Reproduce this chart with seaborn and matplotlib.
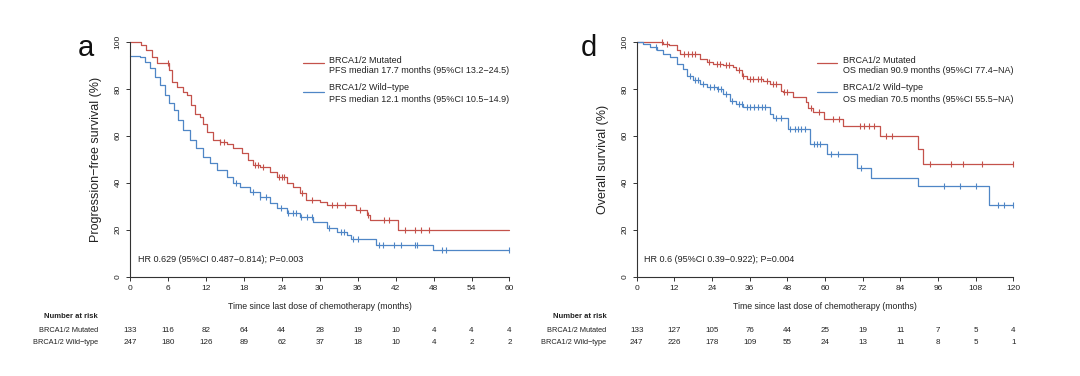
import numpy as np
import pandas as pd
import matplotlib
matplotlib.use("Agg")
import matplotlib.pyplot as plt
import seaborn as sns

# ---- PFS (panel a) ----
pfs_mut_t = [0, 1.8, 2.6, 3.4, 4.2, 4.5, 6.1, 6.6, 7.4, 8.4, 9.0, 9.7, 10.3, 11.0, 11.6, 12.1,
             13.2, 14.2, 15.3, 16.3, 17.7, 18.7, 19.5, 20.6, 22.1, 23.2, 24.8, 25.8, 26.8,
             27.9, 30.0, 31.1, 35.8, 37.4, 38.0, 42.3, 60]
pfs_mut_s = [100, 98.6, 96.5, 93.6, 91.2, 91.2, 88, 83, 80.9, 78.7, 77.3, 73, 69.5, 68, 65.2, 61.7,
             58, 57.4, 56.7, 54.6, 52.5, 49.6, 47.5, 46.5, 44.7, 42.6, 39.7, 38.3, 35.5,
             32.6, 31.9, 30.5, 28.4, 26.2, 24.1, 19.9, 19.9]
pfs_wt_t = [0, 1.6, 2.4, 3.2, 4.0, 4.7, 5.5, 6.1, 6.9, 7.6, 8.4, 9.5, 10.5, 11.6, 12.7, 13.7,
            15.3, 16.3, 17.4, 18.9, 20.6, 22.1, 23.2, 24.8, 26.8, 29.0, 31.1, 32.7, 34.3,
            35.0, 38.9, 47.9, 60]
pfs_wt_s = [93.9, 93.6, 91.5, 88.7, 85, 81.6, 77.3, 73.8, 70.9, 66.7, 62.4, 58.2, 54.6, 51.1,
            48.2, 45.4, 42.6, 39.7, 38.3, 36.2, 34, 31.2, 29.1, 27.2, 25.5, 23.4, 20.6, 19.1,
            17.7, 15.9, 13.5, 11.3, 11.3]
pfs_mut_cens = [6.0, 14.3, 14.8, 19.8, 20.3, 21.0, 23.5, 24.0, 24.4, 27.2, 28.7, 32.0, 32.8,
                34.0, 36.3, 37.7, 40.2, 41.0, 43.5, 45.0, 46.0, 47.3]
pfs_wt_cens = [16.8, 19.5, 20.6, 21.5, 23.8, 25.0, 25.8, 26.2, 27.0, 28.0, 28.8, 31.5, 33.3,
               33.8, 35.3, 36.0, 39.3, 40.0, 41.8, 42.9, 45.0, 45.4, 49.4, 50.0, 60.0]

# ---- OS (panel d) ----
os_mut_t = [0, 7.4, 8.3, 10.4, 12.7, 13.8, 20.2, 22.3, 24.4, 27.6, 30.8, 31.8, 33.4, 35.0,
            40.3, 42.5, 46.1, 46.7, 49.9, 54.1, 54.7, 56.3, 59.7, 65.8, 77.5, 89.7, 91.1, 120]
os_mut_s = [100, 100, 99.3, 98.6, 96.4, 94.7, 92.9, 91.4, 90.7, 90, 89.3, 87.9, 85.7, 84.3,
            83.3, 82.1, 79.3, 78.6, 76.4, 74.3, 71.9, 70, 67.1, 64.3, 60, 54.3, 48.1, 48.1]
os_wt_t = [0, 2.1, 4.2, 6.4, 8.5, 10.6, 12.7, 14.9, 15.9, 18.0, 20.2, 22.3, 25.5, 27.6, 29.7,
           31.8, 34.0, 42.5, 43.5, 48.3, 55.2, 60.5, 70.3, 74.8, 89.7, 112.3, 120]
os_wt_s = [100, 99, 97.9, 96.7, 95, 93.6, 90.7, 88.6, 85.7, 83.6, 82.1, 81, 80, 77.9, 75,
           73.6, 72.1, 69.3, 67.6, 62.9, 56.4, 52.1, 46.4, 42.1, 38.6, 30.7, 30.7]
os_mut_cens = [8.0, 9.5, 15.0, 16.5, 17.5, 18.5, 23.0, 25.5, 26.5, 28.5, 29.5, 32.5, 34.0,
               36.0, 37.0, 38.5, 39.5, 41.5, 43.5, 44.5, 47.0, 48.0, 55.5, 58.0, 62.5, 64.5,
               71.0, 72.5, 74.0, 75.5, 79.5, 81.5, 93.5, 100.0, 104.0, 110.0, 120.0]
os_wt_cens = [6.0, 17.0, 18.5, 19.5, 21.0, 23.5, 24.5, 26.0, 27.0, 28.5, 30.5, 32.5, 33.5,
              35.0, 36.0, 37.5, 38.5, 40.0, 41.0, 44.5, 46.0, 49.0, 50.5, 51.5, 52.5, 53.5,
              56.5, 57.5, 58.5, 62.0, 64.0, 71.5, 98.0, 103.0, 108.0, 115.0, 117.0, 120.0]

# ---- numbers at risk ----
pfs_risk_times = [0, 6, 12, 18, 24, 30, 36, 42, 48, 54, 60]
pfs_risk_mut = [133, 116, 82, 64, 44, 28, 19, 10, 4, 4, 4]
pfs_risk_wt = [247, 180, 126, 89, 62, 37, 18, 10, 4, 2, 2]
os_risk_times = [0, 12, 24, 36, 48, 60, 72, 84, 96, 108, 120]
os_risk_mut = [133, 127, 105, 76, 44, 25, 19, 11, 7, 5, 4]
os_risk_wt = [247, 226, 178, 109, 55, 24, 13, 11, 8, 5, 1]

RED = "#c4524b"
BLUE = "#4f86c6"
INK = "#222222"

sns.set_theme(style="white")
plt.rcParams["font.family"] = ["Liberation Sans", "DejaVu Sans"]

fig = plt.figure(figsize=(10.8, 3.76), dpi=100)


def km(ax, t, s, cens, color):
    df = pd.DataFrame({"t": t, "s": s})
    sns.lineplot(data=df, x="t", y="s", ax=ax, color=color, lw=0.9,
                 drawstyle="steps-post", estimator=None, sort=False, clip_on=False)
    ys = [s[np.searchsorted(t, c, side="right") - 1] for c in cens]
    cdf = pd.DataFrame({"t": cens, "s": ys})
    sns.scatterplot(data=cdf, x="t", y="s", ax=ax, marker="|", s=22, color=color,
                    linewidth=0.8, clip_on=False)


def panel(rect, letter, letter_x, xmax, xticks, ylabel, curves, legend, leg_x, hr,
          risk_t, risk_m, risk_w, lab_x):
    ax = fig.add_axes(rect)
    for t, s, c, col in curves:
        km(ax, t, s, c, col)
    ax.set_xlim(0, xmax)
    ax.set_ylim(0, 100)
    ax.set_xticks(xticks)
    ax.set_yticks([0, 20, 40, 60, 80, 100])
    ax.set_yticklabels(["0", "20", "40", "60", "80", "100"], rotation=90, va="center")
    for side in ["top", "right"]:
        ax.spines[side].set_visible(False)
    for side in ["left", "bottom"]:
        ax.spines[side].set_color("#333333")
        ax.spines[side].set_linewidth(0.8)
    ax.tick_params(axis="both", which="both", length=3, width=0.7, color="#333333",
                   labelsize=6, pad=3, left=True, bottom=True, labelcolor=INK)
    ax.set_xlabel("Time since last dose of chemotherapy (months)", fontsize=6.3, labelpad=7,
                  color=INK)
    ax.set_ylabel(ylabel, fontsize=9, labelpad=9, color=INK)
    ax.text(letter_x, 0.94, letter, transform=ax.transAxes, fontsize=21, va="baseline",
            ha="center", color="#111111")
    ax.text(0.02, 0.06, hr, transform=ax.transAxes, fontsize=6.5, color=INK)
    # legend
    for (l1, l2, col), (y1, y2, yl) in zip(legend, [(0.923, 0.879, 0.910), (0.808, 0.753, 0.786)]):
        ax.plot([leg_x, leg_x + 0.054], [yl, yl], transform=ax.transAxes, color=col, lw=0.9)
        ax.text(leg_x + 0.068, y1, l1, transform=ax.transAxes, fontsize=6.5, va="center",
                color=INK)
        ax.text(leg_x + 0.068, y2, l2, transform=ax.transAxes, fontsize=6.5, va="center",
                color=INK)
    # number at risk
    ax.text(lab_x, -0.17, "Number at risk", transform=ax.transAxes, fontsize=5.5,
            fontweight="bold", ha="right", va="center", color=INK)
    for row, (name, vals) in enumerate([("BRCA1/2 Mutated", risk_m), ("BRCA1/2 Wild\u2212type", risk_w)]):
        yy = -0.23 - row * 0.052
        ax.text(lab_x, yy, name, transform=ax.transAxes, fontsize=5.3, ha="right",
                va="center", color=INK)
        for tt, v in zip(risk_t, vals):
            ax.text(tt / xmax, yy, str(v), transform=ax.transAxes, fontsize=5.8,
                    ha="center", va="center", color=INK)
    return ax


panel([130 / 1080, 1 - 276.5 / 376, 379.5 / 1080, 234.5 / 376], "a", -0.116, 60,
      list(range(0, 61, 6)), "Progression\u2212free survival (%)",
      [(pfs_mut_t, pfs_mut_s, pfs_mut_cens, RED), (pfs_wt_t, pfs_wt_s, pfs_wt_cens, BLUE)],
      [("BRCA1/2 Mutated", "PFS median 17.7 months (95%CI 13.2\u221224.5)", RED),
       ("BRCA1/2 Wild\u2212type", "PFS median 12.1 months (95%CI 10.5\u221214.9)", BLUE)],
      0.456,
      "HR 0.629 (95%CI 0.487\u22120.814); P=0.003",
      pfs_risk_times, pfs_risk_mut, pfs_risk_wt, -0.085)

panel([636.7 / 1080, 1 - 276.5 / 376, 376.6 / 1080, 234.5 / 376], "d", -0.127, 120,
      list(range(0, 121, 12)), "Overall survival (%)",
      [(os_mut_t, os_mut_s, os_mut_cens, RED), (os_wt_t, os_wt_s, os_wt_cens, BLUE)],
      [("BRCA1/2 Mutated", "OS median 90.9 months (95%CI 77.4\u2212NA)", RED),
       ("BRCA1/2 Wild\u2212type", "OS median 70.5 months (95%CI 55.5\u2212NA)", BLUE)],
      0.479,
      "HR 0.6 (95%CI 0.39\u22120.922); P=0.004",
      os_risk_times, os_risk_mut, os_risk_wt, -0.08)

fig.savefig("out.png", dpi=100, facecolor="white")
